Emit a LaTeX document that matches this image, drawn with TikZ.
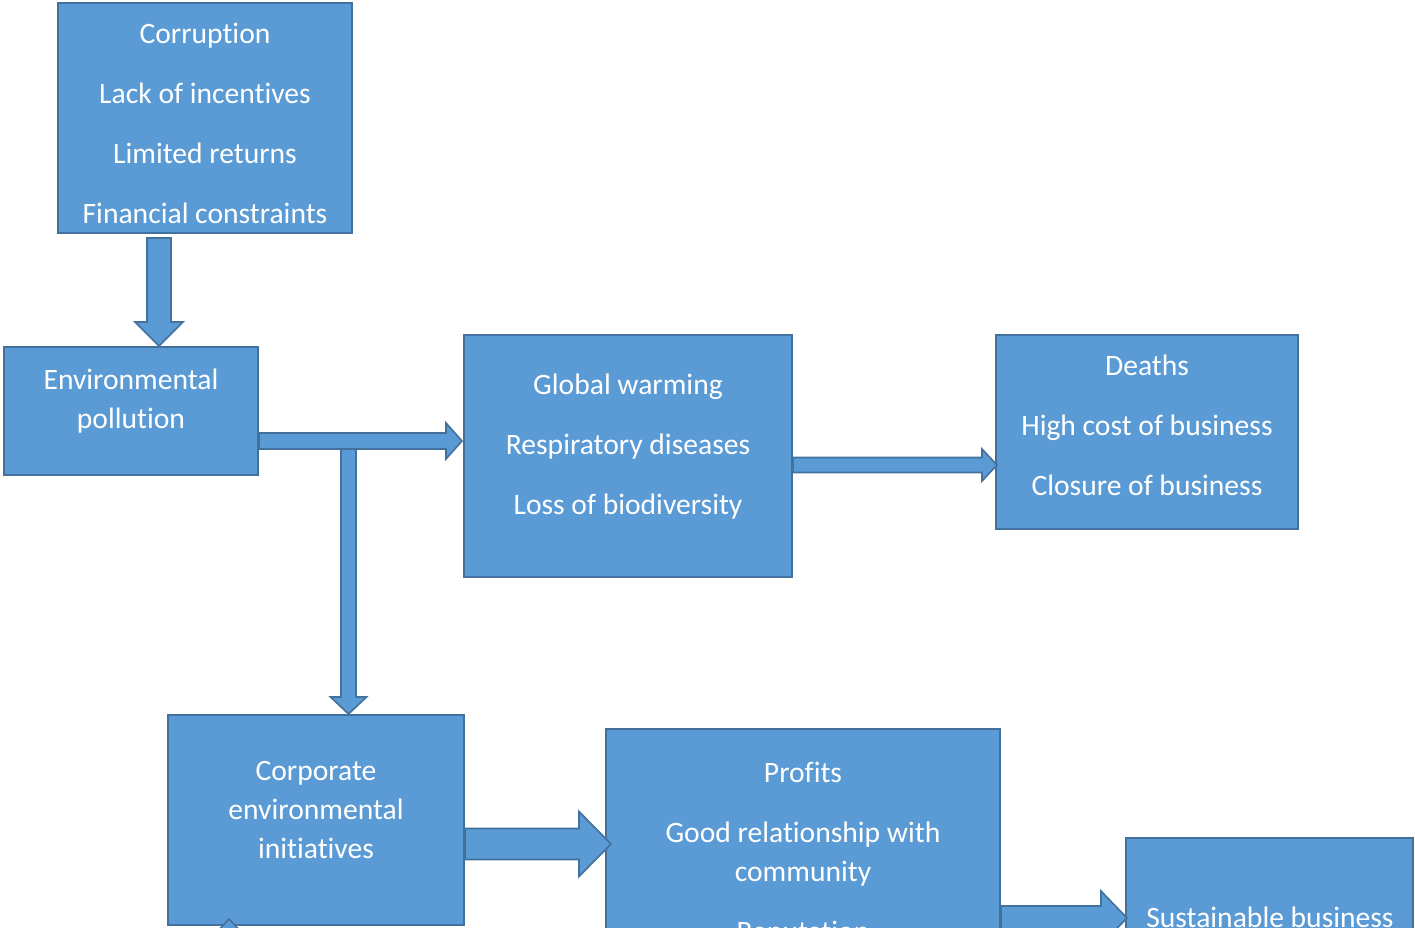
\documentclass[tikz,border=0pt]{standalone}
\usepackage{fontspec}
\setmainfont{Carlito}[Ligatures=NoCommon]
\usetikzlibrary{calc}
\definecolor{BoxFill}{HTML}{5B9BD5}
\definecolor{BoxLine}{HTML}{41719C}
\tikzset{
  box/.style={draw=BoxLine,fill=BoxFill,line width=2pt,inner sep=0pt},
  txt/.style={text=white,align=center,inner sep=0pt,font=\fontsize{29.6}{39}\selectfont},
  blockarrow/.style={draw=BoxLine,fill=BoxFill,line width=1.6pt,line join=miter}
}
% block arrows: start, end, shaft half width, head half width, head length
\newcommand{\harrow}[5]{%
  \filldraw[blockarrow] let \p1=#1, \p2=#2 in
    ({\x1},{\y1+#3}) -- ({\x2-#5},{\y1+#3}) -- ({\x2-#5},{\y1+#4}) -- ({\x2},{\y1})
    -- ({\x2-#5},{\y1-#4}) -- ({\x2-#5},{\y1-#3}) -- ({\x1},{\y1-#3}) -- cycle;}
\newcommand{\varrow}[5]{%
  \filldraw[blockarrow] let \p1=#1, \p2=#2 in
    ({\x1-#3},{\y1}) -- ({\x1-#3},{\y2+(#5)}) -- ({\x1-#4},{\y2+(#5)}) -- ({\x1},{\y2})
    -- ({\x1+#4},{\y2+(#5)}) -- ({\x1+#3},{\y2+(#5)}) -- ({\x1+#3},{\y1}) -- cycle;}
\begin{document}
\begin{tikzpicture}[x=1pt,y=-1pt]
  \useasboundingbox (0,0) rectangle (1415,928);
  \clip (0,0) rectangle (1415,928);
  \node[box,minimum width=294pt,minimum height=230pt] (cause) at (205,118) {};
  \node[box,minimum width=254pt,minimum height=128pt] (pollution) at (131,411) {};
  \node[box,minimum width=328pt,minimum height=242pt] (effects) at (628,456) {};
  \node[box,minimum width=302pt,minimum height=194pt] (impacts) at (1147,432) {};
  \node[box,minimum width=296pt,minimum height=210pt] (initiatives) at (316,820) {};
  \node[box,minimum width=394pt,minimum height=272pt] (benefits) at (803,865) {};
  \node[box,minimum width=287pt,minimum height=200pt] (outcome) at (1269.5,938) {};

  \node[txt] (causetxt) at (205,123) {Corruption\\[21pt]Lack of incentives\\[21pt]Limited returns\\[21pt]Financial constraints};
  \node[txt] (pollutiontxt) at (131,401) {Environmental\\pollution};
  \node[txt] (effectstxt) at (628,446.5) {Global warming\\[21pt]Respiratory diseases\\[21pt]Loss of biodiversity};
  \node[txt] (impactstxt) at (1147,425) {Deaths\\[21pt]High cost of business\\[21pt]Closure of business};
  \node[txt] (initiativestxt) at (316,810) {Corporate\\environmental\\initiatives};
  \node[txt] (benefitstxt) at (803,854.5) {Profits\\[21pt]Good relationship with\\community\\[21pt]Reputation};
  \node[txt] (outcometxt) at (1270,917) {Sustainable business};

  \coordinate (branch) at (348.5,447);
  \coordinate (offpage) at (229,990);
  \varrow{([xshift=-46pt,yshift=-4pt]cause.south)}{(pollution.north)}{12pt}{24pt}{24pt}
  \varrow{(branch)}{(initiatives.north)}{7.5pt}{18pt}{17pt}
  \harrow{([yshift=-30pt]pollution.east)}{([xshift=-1pt]effects.west)}{8pt}{18pt}{16pt}
  \harrow{([yshift=-9pt]effects.east)}{([xshift=2pt]impacts.west)}{7.5pt}{16pt}{15pt}
  \harrow{([yshift=-24pt]initiatives.east)}{([xshift=6pt]benefits.west)}{15.5pt}{32.5pt}{32pt}
  \harrow{([yshift=-53pt]benefits.east)}{([xshift=2pt]outcome.west)}{12pt}{27pt}{26pt}
  \varrow{(offpage)}{([xshift=-87pt,yshift=7pt]initiatives.south)}{7.5pt}{16pt}{-17pt}
\end{tikzpicture}
\end{document}
